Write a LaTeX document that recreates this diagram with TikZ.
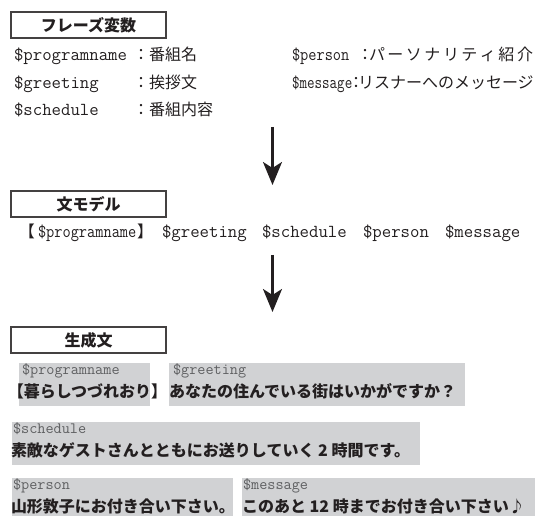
\documentclass[tikz,border=0pt]{standalone}
\usepackage{fontspec}
\usetikzlibrary{arrows.meta}
\newfontfamily\jp{Noto Sans CJK JP}
\definecolor{ink}{HTML}{231F20}
\definecolor{graybg}{HTML}{D1D2D4}
\definecolor{lblgray}{HTML}{5F6062}
\newcommand\jpr{\jp\fontsize{16pt}{18pt}\selectfont}
\newcommand\jpbold{\jp\bfseries\fontsize{16pt}{18pt}\selectfont}
\newcommand\monor{\ttfamily\fontsize{18.3pt}{20pt}\selectfont}
\newcommand\monolbl{\ttfamily\fontsize{15.8pt}{17pt}\selectfont}
\newcommand\ks{\kern2.5pt}
\begin{document}
\begin{tikzpicture}[x=1pt,y=-1pt,
  every node/.style={inner sep=0pt, outer sep=0pt, text=ink},
  titlebox/.style={draw=ink!85, line width=1.1pt, fill=white, anchor=north west,
    minimum width=155pt, minimum height=26pt, font=\jpbold},
  graybox/.style={fill=graybg, anchor=north west},
  lbl/.style={anchor=base west, text=lblgray, font=\monolbl},
  gen/.style={anchor=base west, font=\jpbold},
  txt/.style={anchor=base west, font=\jpr},
  code/.style={anchor=base west, font=\monor},
  flow/.style={draw=ink, line width=2.2pt, -{Stealth[length=23pt,width=19pt,inset=6pt]}}]
\useasboundingbox (0,0) rectangle (539,516);

% ---- section 1: phrase variables
\node[titlebox] (t1) at (11,12) {フレーズ変数};

\node[code] (v1) at (14,61) {\$programname};
\node[txt] (d1) at (133,61) {：番組名};
\node[code] (v2) at (14,89) {\$greeting};
\node[txt] (d2) at (133,89) {：挨拶文};
\node[code] (v3) at (14,116) {\$schedule};
\node[txt] (d3) at (133,116) {：番組内容};

\node[code] (v4) at (292,61) {\scalebox{0.87}[1]{\$person}};
\node[txt] (c4) at (357,61) {：};
\node[txt] (d4) at (369,61) {パ\ks ー\ks ソ\ks ナ\ks リ\ks テ\ks ィ\ks 紹\ks 介};
\node[code] (v5) at (292,89) {\scalebox{0.8}[1]{\$message}};
\node[txt] (c5) at (348,89) {：};
\node[txt] (d5) at (358,89) {リスナーへのメッセージ};

\coordinate (a1s) at (272.5,127);
\coordinate (a1e) at (272.5,185);
\draw[flow] (a1s) -- (a1e);

% ---- section 2: sentence model
\node[titlebox] (t2) at (11,191) {文モデル};
\node[txt] (m0) at (19,238) {【};
\node[code] (m1) at (38,238) {\scalebox{0.87}[1]{\$programname}};
\node[txt] (m2) at (137,238) {】};
\node[code] (m3) at (162,238) {\$greeting};
\node[code] (m4) at (262,238) {\$schedule};
\node[code] (m5) at (363,238) {\$person};
\node[code] (m6) at (445,238) {\$message};

\coordinate (a2s) at (272.5,255);
\coordinate (a2e) at (272.5,312);
\draw[flow] (a2s) -- (a2e);

% ---- section 3: generated sentence
\node[titlebox] (t3) at (11,327) {生成文};

\node[graybox, minimum width=131pt, minimum height=43pt] (g1) at (19,363) {};
\node[graybox, minimum width=296pt, minimum height=43pt] (g2) at (169,363) {};
\node[graybox, minimum width=408pt, minimum height=43pt] (g3) at (12,422) {};
\node[graybox, minimum width=221pt, minimum height=38pt] (g4) at (12,478) {};
\node[graybox, minimum width=293pt, minimum height=38pt] (g5) at (242,478) {};

\node[lbl] (l1) at (22,374) {\$programname};
\node[lbl] (l2) at (173,374) {\$greeting};
\node[lbl] (l3) at (13,433) {\$schedule};
\node[lbl] (l4) at (13,489) {\$person};
\node[lbl] (l5) at (243,489) {\$message};

\node[gen] (s1) at (8,397) {【暮らしつづれおり】};
\node[gen] (s2) at (169,397) {あなたの住んでいる街はいかがですか？};
\node[gen] (s3) at (11,456) {素敵なゲストさんとともにお送りしていく 2 時間です。};
\node[gen] (s4) at (11,512) {山形敦子にお付き合い下さい。};
\node[gen] (s5) at (242,512) {このあと 12 時までお付き合い下さい♪};
\end{tikzpicture}
\end{document}
